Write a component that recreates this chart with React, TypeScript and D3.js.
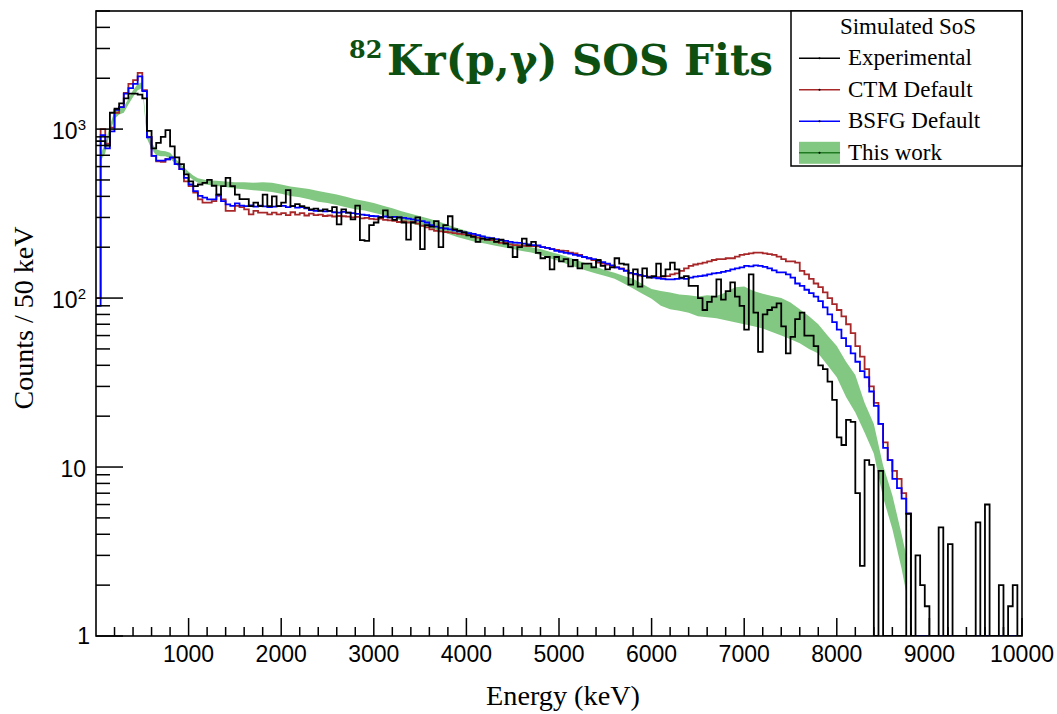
import React from "react";
import * as d3 from "d3";

const BIN_WIDTH = 50;

// Experimental counts per 50 keV bin (0 - 10000 keV)
const expCounts = [
  850, 850, 800, 1250, 1320, 1420, 1520, 1620, 1620, 1600,
  1520, 975, 770, 830, 900, 985, 790, 680, 620, 540,
  490, 460, 470, 480, 500, 462, 410, 460, 515, 460,
  410, 385, 385, 350, 367, 350, 410, 350, 400, 350,
  367, 435, 350, 360, 350, 343, 335, 338, 328, 335,
  328, 345, 273, 335, 320, 292, 352, 220, 218, 270,
  280, 300, 330, 300, 290, 300, 280, 222, 280, 300,
  195, 270, 265, 285, 200, 270, 305, 255, 250, 245,
  235, 230, 215, 225, 222, 225, 215, 222, 210, 200,
  175, 200, 225, 205, 215, 185, 172, 175, 148, 175,
  165, 170, 154, 168, 150, 160, 160, 152, 168, 155,
  148, 152, 172, 160, 158, 120, 148, 117, 150, 132,
  135, 160, 135, 148, 162, 148, 132, 135, 118, 118,
  100, 85, 95, 102, 129, 98, 110, 124, 102, 90,
  65, 138, 82, 48, 80, 85, 88, 93, 68, 47,
  59, 75, 82, 60, 60, 52, 40, 38, 32, 25,
  15, 13.5, 19, 18.5, 7, 2.6, 11, 10.3, 0, 9.5,
  0, 0, 0, 0, 0, 5.3, 0, 3.0, 2.0, 1.5,
  0, 0, 4.4, 0, 3.5, 0, 0, 0, 0, 0,
  4.7, 0, 6.0, 0, 0, 2.0, 0, 1.5, 2.0, 0,
];

// CTM Default simulation
const ctmCounts = [
  100, 1000, 820, 1020, 1250, 1350, 1640, 1850, 1950, 2150,
  1700, 900, 694, 645, 640, 663, 675, 620, 580, 490,
  460, 421, 384, 367, 367, 375, 402, 384, 328, 328,
  351, 345, 335, 313, 328, 320, 320, 313, 320, 313,
  318, 310, 322, 312, 318, 308, 316, 310, 312, 306,
  308, 304, 306, 305, 303, 300, 302, 296, 298, 294,
  292, 295, 290, 288, 286, 282, 284, 280, 282, 276,
  268, 262, 255, 250, 248, 246, 245, 242, 240, 238,
  236, 234, 228, 225, 222, 220, 216, 212, 212, 208,
  206, 205, 204, 203, 203, 202, 200, 198, 195, 193,
  191, 190, 186, 184, 180, 175, 172, 168, 162, 160,
  158, 155, 152, 150, 146, 140, 138, 136, 135, 134,
  133, 133, 134, 135, 138, 140, 145, 150, 155, 158,
  160, 162, 165, 168, 170, 170, 172, 172, 176, 180,
  182, 184, 186, 186, 184, 182, 180, 176, 170, 165,
  165, 162, 145, 138, 130, 122, 116, 108, 100, 92,
  85, 78, 70, 62, 52, 45, 38, 30, 24, 18,
  14, 11, 9.5, 8.5, 7, 5.3, 0, 0, 0, 0,
  0, 0, 0, 0, 0, 0, 0, 0, 0, 0,
  0, 0, 0, 0, 0, 0, 0, 0, 0, 0,
];

// BSFG Default simulation
const bsfgCounts = [
  90, 920, 770, 970, 1300, 1350, 1620, 1750, 1850, 2050,
  1680, 895, 694, 650, 650, 663, 680, 620, 580, 515,
  470, 430, 402, 393, 384, 384, 410, 375, 359, 351,
  363, 352, 350, 354, 348, 352, 349, 346, 348, 350,
  351, 345, 350, 343, 345, 340, 332, 328, 330, 326,
  328, 322, 320, 324, 320, 318, 315, 312, 310, 306,
  305, 302, 304, 300, 302, 300, 298, 295, 292, 288,
  285, 280, 270, 265, 260, 258, 255, 252, 248, 245,
  242, 240, 236, 232, 228, 226, 223, 220, 218, 215,
  213, 212, 210, 208, 206, 205, 200, 198, 195, 190,
  188, 185, 183, 180, 178, 175, 172, 170, 166, 163,
  160, 156, 152, 149, 145, 141, 139, 137, 135, 133,
  132, 131, 130, 129, 129, 130, 131, 130, 132, 134,
  135, 136, 138, 140, 141, 143, 145, 148, 150, 152,
  155, 154, 156, 155, 153, 150, 146, 142, 142, 138,
  132, 122, 118, 112, 107, 102, 96, 88, 80, 72,
  65, 58, 52, 47, 42, 37, 34, 28, 23, 18,
  13, 11, 8.5, 7.5, 6.5, 5.3, 0, 0, 0, 0,
  0, 0, 0, 0, 0, 0, 0, 0, 0, 0,
  0, 0, 0, 0, 0, 0, 0, 0, 0, 0,
];

// "This work" uncertainty band
const bandEnergy = [
  50, 100, 150, 200, 250, 300, 350, 400, 450, 500,
  550, 600, 650, 700, 750, 800, 850, 900, 950, 1000,
  1050, 1100, 1200, 1300, 1400, 1500, 1600, 1700, 1800, 1900,
  2000, 2100, 2200, 2300, 2400, 2500, 2600, 2700, 2800, 2900,
  3000, 3100, 3200, 3300, 3400, 3500, 3600, 3700, 3800, 3900,
  4000, 4100, 4200, 4300, 4400, 4500, 4600, 4700, 4800, 4900,
  5000, 5100, 5200, 5300, 5400, 5500, 5600, 5700, 5800, 5900,
  6000, 6100, 6200, 6300, 6400, 6500, 6600, 6700, 6800, 6900,
  7000, 7100, 7200, 7300, 7400, 7500, 7600, 7700, 7800, 7900,
  8000, 8100, 8200, 8300, 8400, 8500, 8600, 8700, 8750,
];
const bandLow = [
  650, 720, 950, 1150, 1220, 1250, 1400, 1550, 1700, 1750,
  880, 760, 700, 690, 690, 670, 630, 590, 555, 525,
  500, 482, 468, 460, 455, 445, 440, 435, 430, 425,
  415, 402, 395, 385, 372, 365, 355, 345, 336, 330,
  320, 310, 300, 287, 277, 268, 260, 250, 240, 230,
  222, 215, 210, 205, 200, 195, 190, 186, 180, 172,
  166, 158, 151, 145, 140, 135, 130, 122, 114, 106,
  99, 90, 86, 84, 82, 78, 77, 76, 74, 72,
  70, 68, 66, 63, 60, 57, 54, 50, 47, 40,
  34, 26, 21, 16, 12, 6.6, 4.3, 2.5, 1.8,
];
const bandHigh = [
  720, 820, 1050, 1280, 1320, 1350, 1520, 1700, 1850, 1900,
  960, 830, 760, 745, 740, 725, 675, 635, 595, 560,
  532, 512, 498, 495, 490, 485, 485, 482, 485, 482,
  470, 458, 450, 442, 430, 420, 410, 398, 385, 375,
  365, 352, 340, 326, 315, 305, 295, 284, 272, 260,
  250, 241, 233, 226, 219, 212, 206, 200, 195, 188,
  182, 175, 167, 160, 153, 146, 141, 135, 130, 121,
  113, 110, 108, 105, 104, 102, 104, 103, 108, 116,
  117, 110, 106, 103, 100, 94, 86, 78, 70, 60,
  52, 42, 35, 24, 18, 10.2, 6.8, 4.0, 3.0,
];

const xTickValues = [1000, 2000, 3000, 4000, 5000, 6000, 7000, 8000, 9000, 10000];
const yMajorTicks = [1, 10, 100, 1000];
const yTickExponents = ["", "", "2", "3"];
const yTickBases = ["1", "10", "10", "10"];

const legendEntries = ["Experimental", "CTM Default", "BSFG Default", "This work"];

const FRAME = { left: 96, right: 1022, top: 11, bottom: 636 };
const RED = "#a8282a";
const BLUE = "#0000ff";
const BAND = "#82c882";
const BAND_LINE = "#1f7a22";
const SANS = "'Liberation Sans', Arial, Helvetica, sans-serif";
const SERIF = "'Liberation Serif', 'Times New Roman', serif";

export default function App() {
  const x = d3.scaleLinear().domain([0, 10000]).range([FRAME.left, FRAME.right]);
  const y = d3.scaleLog().domain([1, 5000]).range([FRAME.bottom, FRAME.top]);
  const yc = (v: number) => (v >= 1 ? y(v) : FRAME.bottom);

  const histPath = (counts: number[]) => {
    const pts: [number, number][] = counts.map((c, i) => [i * BIN_WIDTH, c]);
    pts.push([counts.length * BIN_WIDTH, counts[counts.length - 1]]);
    return (
      d3
        .line<[number, number]>()
        .x((d) => x(d[0]))
        .y((d) => yc(d[1]))
        .curve(d3.curveStepAfter)(pts) || ""
    );
  };

  const bandData = bandEnergy.map((e, i) => ({ e, lo: bandLow[i], hi: bandHigh[i] }));
  const bandPath =
    d3
      .area<{ e: number; lo: number; hi: number }>()
      .x((d) => x(d.e))
      .y0((d) => yc(d.lo))
      .y1((d) => yc(d.hi))(bandData) || "";

  const xMinor = d3.range(200, 10000, 200).filter((v) => v % 1000 !== 0);
  const yMinor: number[] = [];
  for (let k = 0; k < 4; k++) {
    for (let m = 2; m <= 9; m++) {
      const v = m * Math.pow(10, k);
      if (v <= 5000) yMinor.push(v);
    }
  }

  const legendY = [65, 96.5, 128, 159.5];

  return (
    <svg
      width={1057}
      height={714}
      viewBox="0 0 1057 714"
      style={{ position: "absolute", left: 0, top: 0, background: "#fff" }}
    >
      <rect x={0} y={0} width={1057} height={714} fill="#fff" />
      <defs>
        <clipPath id="frameClip">
          <rect
            x={FRAME.left}
            y={FRAME.top}
            width={FRAME.right - FRAME.left}
            height={FRAME.bottom - FRAME.top}
          />
        </clipPath>
      </defs>

      <g clipPath="url(#frameClip)">
        <path d={bandPath} fill={BAND} stroke="none" />
        <path d={histPath(ctmCounts)} fill="none" stroke={RED} strokeWidth={1.8} />
        <path d={histPath(bsfgCounts)} fill="none" stroke={BLUE} strokeWidth={1.8} />
        <path d={histPath(expCounts)} fill="none" stroke="#000" strokeWidth={1.8} />
      </g>

      {/* frame */}
      <rect
        x={FRAME.left}
        y={FRAME.top}
        width={FRAME.right - FRAME.left}
        height={FRAME.bottom - FRAME.top}
        fill="none"
        stroke="#000"
        strokeWidth={1.6}
      />

      {/* x ticks */}
      {xTickValues.map((v) => (
        <line key={"xM" + v} x1={x(v)} x2={x(v)} y1={FRAME.bottom} y2={FRAME.bottom - 18} stroke="#000" strokeWidth={1.5} />
      ))}
      {xMinor.map((v) => (
        <line key={"xm" + v} x1={x(v)} x2={x(v)} y1={FRAME.bottom} y2={FRAME.bottom - 9} stroke="#000" strokeWidth={1.5} />
      ))}
      {xTickValues.map((v) => (
        <text
          key={"xl" + v}
          x={x(v)}
          y={662}
          textAnchor="middle"
          fontFamily={SANS}
          fontSize={23}
          fill="#000"
        >
          {v}
        </text>
      ))}

      {/* y ticks */}
      {yMajorTicks.map((v) => (
        <line key={"yM" + v} x1={FRAME.left} x2={FRAME.left + 27} y1={y(v)} y2={y(v)} stroke="#000" strokeWidth={1.5} />
      ))}
      {yMinor.map((v) => (
        <line key={"ym" + v} x1={FRAME.left} x2={FRAME.left + 14} y1={y(v)} y2={y(v)} stroke="#000" strokeWidth={1.5} />
      ))}
      {yMajorTicks.map((v, i) => (
        <text
          key={"yl" + v}
          x={yTickBases[i] === "1" ? 90 : 86}
          y={y(v) + (i === 0 ? 8 : 10)}
          textAnchor="end"
          fontFamily={SANS}
          fontSize={23}
          fill="#000"
        >
          {yTickBases[i]}
          {yTickExponents[i] ? (
            <tspan fontSize={15} dy={-9}>
              {yTickExponents[i]}
            </tspan>
          ) : null}
        </text>
      ))}

      {/* axis titles */}
      <text
        transform="translate(33,318) rotate(-90)"
        textAnchor="middle"
        fontFamily={SERIF}
        fontSize={28}
        fill="#000"
      >
        Counts / 50 keV
      </text>
      <text x={563} y={705} textAnchor="middle" fontFamily={SERIF} fontSize={27} fill="#000" textLength={154} lengthAdjust="spacingAndGlyphs">
        Energy (keV)
      </text>

      {/* title */}
      <text x={349} y={58} fontFamily="'DejaVu Serif', serif" fontWeight="bold" fontSize={24} fill="#0d4f10">
        82
      </text>
      <text
        x={387}
        y={75}
        fontFamily="'DejaVu Serif', serif"
        fontWeight="bold"
        fontSize={43}
        fill="#0d4f10"
        textLength={386}
        lengthAdjust="spacingAndGlyphs"
      >
        Kr(p,γ) SOS Fits
      </text>

      {/* legend */}
      <rect x={791} y={11} width={231} height={155} fill="#fff" stroke="#000" strokeWidth={1.5} />
      <text x={908} y={34} textAnchor="middle" fontFamily={SERIF} fontSize={23} fill="#000">
        Simulated SoS
      </text>
      {legendEntries.map((name, i) => {
        const by = legendY[i];
        const ly = by - 6.7;
        const color = i === 0 ? "#000" : i === 1 ? RED : i === 2 ? BLUE : BAND_LINE;
        return (
          <g key={name}>
            {i === 3 ? (
              <rect x={799} y={ly - 11} width={41} height={22} fill={BAND} />
            ) : null}
            <line x1={799} x2={840} y1={ly} y2={ly} stroke={color} strokeWidth={1.6} />
            <circle cx={819.5} cy={ly} r={1} fill="#000" />
            <text x={848} y={by} fontFamily={SERIF} fontSize={23} fill="#000">
              {name}
            </text>
          </g>
        );
      })}
    </svg>
  );
}
